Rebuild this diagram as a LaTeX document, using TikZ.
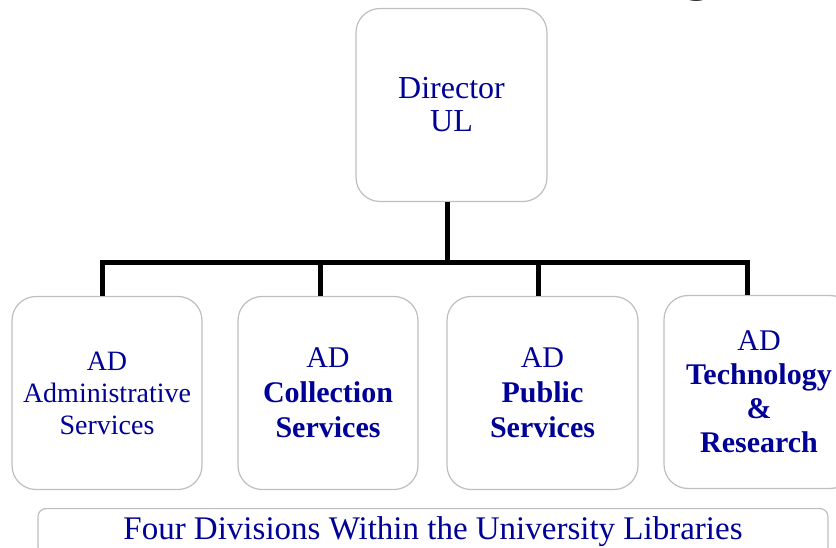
\documentclass[tikz,border=0pt]{standalone}
\usepackage{fontspec}
\setmainfont{Liberation Serif}
\definecolor{ulblue}{RGB}{0,0,150}
\definecolor{boxgray}{RGB}{190,190,190}
\begin{document}
\begin{tikzpicture}[x=1pt, y=-1pt,
		box/.style={rectangle, rounded corners=24pt, draw=boxgray, line width=1.2pt, text=ulblue, align=center, minimum height=193pt, font=\fontsize{30}{35}\selectfont},
		bar/.style={line width=5pt, black, line join=miter}
		]
	\useasboundingbox (0,0) rectangle (836,548);
	% cut off title above the frame
	\node [anchor=base, font=\fontsize{64}{64}\selectfont] (ttl) at (697,-12) {g};
	\node [box, minimum width=191pt, font=\fontsize{32}{33}\selectfont] (dir) at (451.5,105) {Director\\UL};
	\node [box, minimum width=190pt, font=\fontsize{28}{32}\selectfont] (adm) at (107,393) {AD\\Administrative\\Services};
	\node [box, minimum width=180pt] (col) at (328,393) {AD\\\textbf{Collection}\\\textbf{Services}};
	\node [box, minimum width=191pt] (pub) at (542.5,393) {AD\\\textbf{Public}\\\textbf{Services}};
	\node [box, minimum width=190pt, font=\fontsize{30}{34}\selectfont] (tec) at (759,392) {AD\\\textbf{Technology}\\\textbf{\&}\\\textbf{Research}};
	\node [rectangle, rounded corners=8pt, draw=boxgray, line width=1.2pt, text=ulblue, anchor=north, minimum width=790pt, inner ysep=8pt, font=\fontsize{33}{34}\selectfont] (cap) at (433,508) {Four Divisions Within the University Libraries};
	% connectors
	\draw [bar] ([xshift=-4pt]dir.south) -- ++(0,60) coordinate (bus);
	\draw [bar] ([xshift=-5pt]adm.north) -- ([xshift=-5pt]adm.north |- bus) -- ([xshift=-12pt]tec.north |- bus) -- ([xshift=-12pt]tec.north);
	\draw [bar] ([xshift=-8pt]col.north) -- ([xshift=-8pt]col.north |- bus);
	\draw [bar] ([xshift=-4pt]pub.north) -- ([xshift=-4pt]pub.north |- bus);
\end{tikzpicture}
\end{document}
